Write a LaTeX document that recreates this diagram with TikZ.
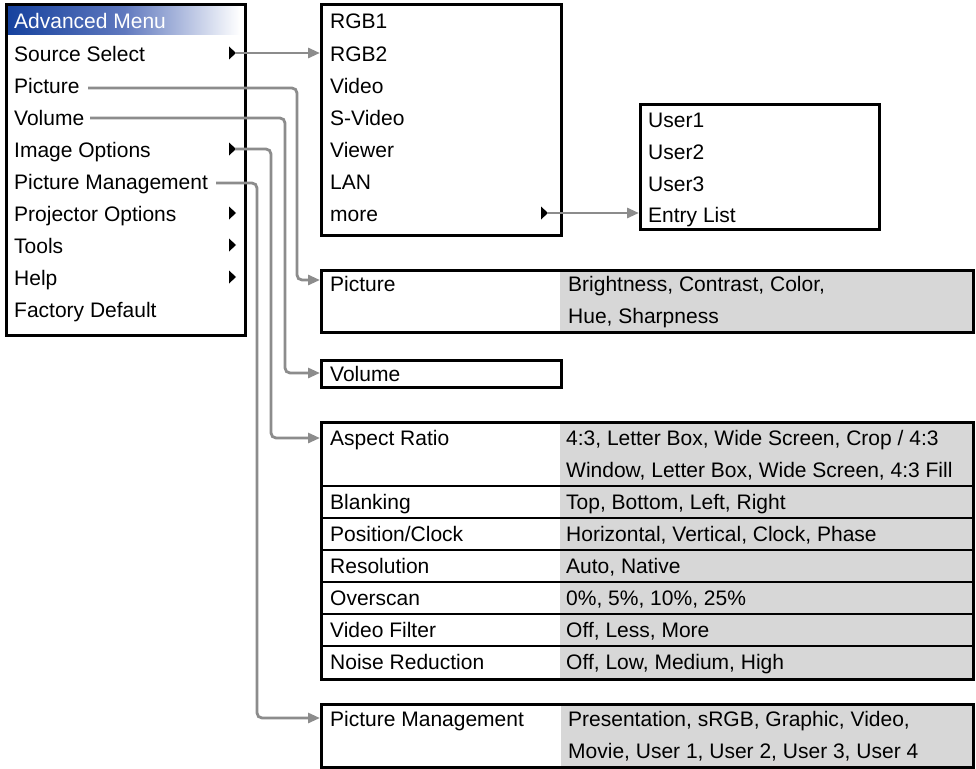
\documentclass[tikz,border=0pt]{standalone}
\usepackage{fontspec}
\setmainfont{Liberation Sans}
\usetikzlibrary{arrows.meta}
\definecolor{conncol}{RGB}{140,140,140}
\definecolor{cellgray}{RGB}{215,215,215}
\definecolor{titleblue}{RGB}{22,66,158}
\definecolor{titlemid}{RGB}{95,120,190}
\tikzset{
  txt/.style={anchor=base west, inner sep=0pt, font=\fontsize{21}{25}\selectfont},
  box/.style={draw=black, line width=2.6pt, anchor=north west, inner sep=0pt},
  conn/.style={draw=conncol, line width=2.8pt, rounded corners=5pt, -{Triangle[length=12pt,width=10pt]}},
  rowline/.style={draw=black, line width=1.4pt},
  marker/.style={fill=black}
}
\begin{document}
\begin{tikzpicture}[x=1pt,y=-1pt]
\useasboundingbox (0,0) rectangle (976,768);

% ---------- main menu ----------
\shade[left color=titleblue, right color=white, middle color=titlemid] (8,6) rectangle (240,35);
\node[box, minimum width=239pt, minimum height=331pt] (main) at (5,3) {};
\node[txt, text=white] (mTitle) at (14,29) {Advanced Menu};
\node[txt] (mSrc) at (14,61) {Source Select};
\node[txt] (mPic) at (14,93) {Picture};
\node[txt] (mVol) at (14,125) {Volume};
\node[txt] (mImg) at (14,157) {Image Options};
\node[txt] (mPM) at (14,189) {Picture Management};
\node[txt] (mProj) at (14,221) {Projector Options};
\node[txt] (mTools) at (14,253) {Tools};
\node[txt] (mHelp) at (14,285) {Help};
\node[txt] (mFact) at (14,317) {Factory Default};
\foreach \yy in {53,149,213,245,277}
  \fill[marker] (229,\yy-6.5) -- (236,\yy) -- (229,\yy+6.5) -- cycle;
\coordinate (tSrc) at (235,53);
\coordinate (tImg) at (235,149);
\coordinate (sPic) at (88,88);
\coordinate (sVol) at (90,118);
\coordinate (sPM) at (216,183);

% ---------- source submenu ----------
\node[box, minimum width=240pt, minimum height=231pt] (src) at (320,3) {};
\node[txt] (sR1) at (330,29) {RGB1};
\node[txt] (sR2) at (330,61) {RGB2};
\node[txt] (sVid) at (330,93) {Video};
\node[txt] (sSV) at (330,125) {S-Video};
\node[txt] (sView) at (330,157) {Viewer};
\node[txt] (sLAN) at (330,189) {LAN};
\node[txt] (sMore) at (330,221) {more};
\fill[marker] (541,206.5) -- (548,213) -- (541,219.5) -- cycle;
\coordinate (tMore) at (547,213);

% ---------- user submenu ----------
\node[box, minimum width=239pt, minimum height=125pt] (usr) at (639,103) {};
\node[txt] (u1) at (648,127) {User1};
\node[txt] (u2) at (648,159) {User2};
\node[txt] (u3) at (648,191) {User3};
\node[txt] (uE) at (648,222) {Entry List};

% ---------- picture box ----------
\fill[cellgray] (560,269) rectangle (972,331);
\node[box, minimum width=652pt, minimum height=62pt] (bPic) at (320,269) {};
\node[txt] (pL) at (330,291) {Picture};
\node[txt] (pV1) at (568,291) {Brightness, Contrast, Color,};
\node[txt] (pV2) at (568,323) {Hue, Sharpness};

% ---------- volume box ----------
\node[box, minimum width=240pt, minimum height=27pt] (bVol) at (320,359) {};
\node[txt] (vL) at (330,381) {Volume};

% ---------- image options table ----------
\fill[cellgray] (560,421) rectangle (972,678);
\foreach \yy in {486,518,550,582,614,646}
  \draw[rowline] (320,\yy) -- (972,\yy);
\node[box, minimum width=652pt, minimum height=257pt] (bImg) at (320,421) {};
\node[txt] (iA) at (330,445.5) {Aspect Ratio};
\node[txt] (iAv1) at (566,445.5) {4:3, Letter Box, Wide Screen, Crop / 4:3};
\node[txt] (iAv2) at (566,477.5) {Window, Letter Box, Wide Screen, 4:3 Fill};
\node[txt] (iB) at (330,509.5) {Blanking};
\node[txt] (iBv) at (566,509.5) {Top, Bottom, Left, Right};
\node[txt] (iP) at (330,541.5) {Position/Clock};
\node[txt] (iPv) at (566,541.5) {Horizontal, Vertical, Clock, Phase};
\node[txt] (iR) at (330,573.5) {Resolution};
\node[txt] (iRv) at (566,573.5) {Auto, Native};
\node[txt] (iO) at (330,605.5) {Overscan};
\node[txt] (iOv) at (566,605.5) {0\%, 5\%, 10\%, 25\%};
\node[txt] (iV) at (330,637.5) {Video Filter};
\node[txt] (iVv) at (566,637.5) {Off, Less, More};
\node[txt] (iN) at (330,669.5) {Noise Reduction};
\node[txt] (iNv) at (566,669.5) {Off, Low, Medium, High};

% ---------- picture management box ----------
\fill[cellgray] (561,703) rectangle (972,766);
\node[box, minimum width=652pt, minimum height=63pt] (bPM) at (320,703) {};
\node[txt] (mL) at (330,726) {Picture Management};
\node[txt] (mV1) at (568,726) {Presentation, sRGB, Graphic, Video,};
\node[txt] (mV2) at (568,758) {Movie, User 1, User 2, User 3, User 4};

% ---------- connectors ----------
\draw[conn] (tSrc) -- (src.west |- tSrc);
\draw[conn] (tMore) -- (usr.west |- tMore);
\draw[conn] (sPic) -- (297,88) -- (297,280) -- (bPic.west |- 0,280);
\draw[conn] (sVol) -- (285,118) -- (285,373) -- (bVol.west |- 0,373);
\draw[conn] (tImg) -- (271,149) -- (271,438) -- (bImg.west |- 0,438);
\draw[conn] (sPM) -- (257,183) -- (257,718) -- (bPM.west |- 0,718);
\end{tikzpicture}
\end{document}
